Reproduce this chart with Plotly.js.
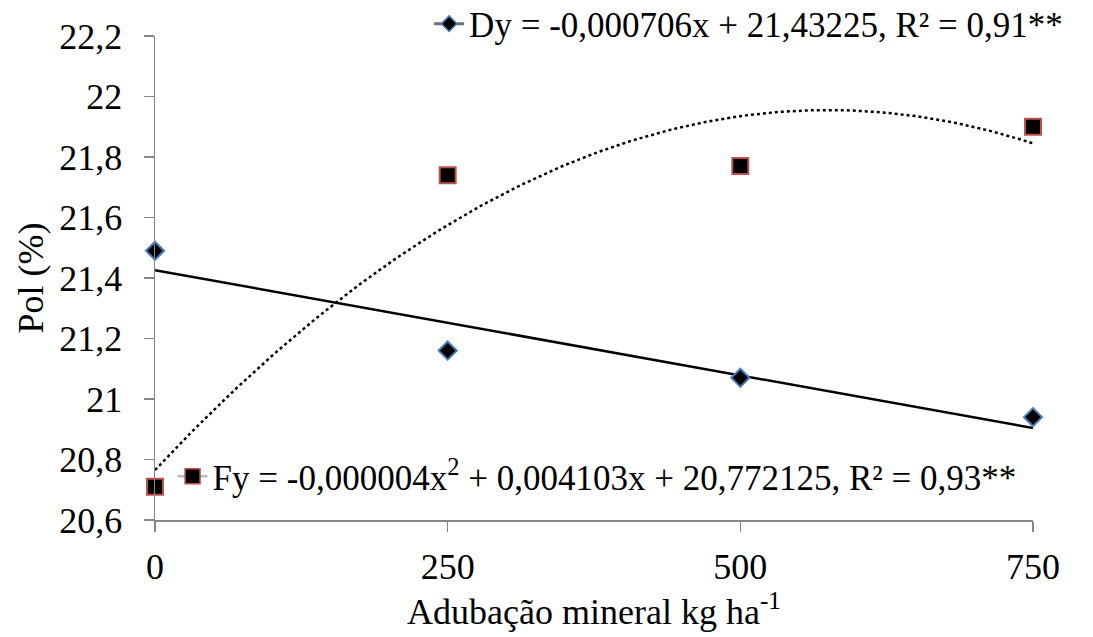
<!DOCTYPE html>
<html>
<head>
<meta charset="utf-8">
<script src="https://cdn.plot.ly/plotly-3.0.1.min.js"></script>
<style>html,body{margin:0;padding:0;background:#fff}#chart{width:1093px;height:637px}</style>
</head>
<body>
<div id="chart"></div>
<script>
const doses = [0, 250, 500, 750];
const polD = [21.49, 21.16, 21.07, 20.94];
const polF = [20.71, 21.74, 21.77, 21.90];
const xTickVals = [0, 250, 500, 750];
const yTickVals = [20.6, 20.8, 21, 21.2, 21.4, 21.6, 21.8, 22, 22.2];
const labelD = 'Dy = -0,000706x + 21,43225, R² = 0,91**';
const labelF = 'Fy = -0,000004x<sup>2</sup> + 0,004103x + 20,772125, R² = 0,93**';

// least-squares polynomial fit (trendlines, as the spreadsheet draws them)
function polyfit(xs, ys, deg) {
  const n = deg + 1;
  const A = Array.from({length: n}, () => new Array(n + 1).fill(0));
  for (let i = 0; i < xs.length; i++) {
    for (let r = 0; r < n; r++) {
      for (let c = 0; c < n; c++) A[r][c] += Math.pow(xs[i], r + c);
      A[r][n] += ys[i] * Math.pow(xs[i], r);
    }
  }
  for (let p = 0; p < n; p++) {
    let m = p;
    for (let r = p + 1; r < n; r++) if (Math.abs(A[r][p]) > Math.abs(A[m][p])) m = r;
    [A[p], A[m]] = [A[m], A[p]];
    for (let r = 0; r < n; r++) {
      if (r === p) continue;
      const f = A[r][p] / A[p][p];
      for (let c = p; c <= n; c++) A[r][c] -= f * A[p][c];
    }
  }
  return A.map((row, i) => row[n] / row[i]);
}
function evalPoly(co, x) { return co.reduce((s, c, i) => s + c * Math.pow(x, i), 0); }

const coD = polyfit(doses, polD, 1);
const coF = polyfit(doses, polF, 2);
const xs = [];
const xmin = Math.min(...doses), xmax = Math.max(...doses);
for (let i = 0; i <= 150; i++) xs.push(xmin + (xmax - xmin) * i / 150);

const FAM = 'Liberation Serif';
function f(size) { return {family: FAM, size: size, color: '#000'}; }
const diamond = {symbol: 'diamond', size: 14, color: '#000', line: {color: '#4a7ebb', width: 2}};
const square = {symbol: 'square', size: 16, color: '#000', line: {color: '#c0504d', width: 2}};

const traces = [
  {x: xs, y: xs.map(x => evalPoly(coD, x)), mode: 'lines', line: {color: '#000', width: 2.5}, showlegend: false, hoverinfo: 'skip'},
  {x: xs, y: xs.map(x => evalPoly(coF, x)), mode: 'lines', line: {color: '#000', width: 2.5, dash: 'dot'}, showlegend: false, hoverinfo: 'skip'},
  {x: doses, y: polD, mode: 'markers', marker: diamond, showlegend: false, cliponaxis: false},
  {x: doses, y: polF, mode: 'markers', marker: square, showlegend: false, cliponaxis: false},
  {x: [null], y: [null], mode: 'lines+markers', name: labelD, marker: {symbol: 'diamond', size: 12, color: '#000', line: {color: '#4a7ebb', width: 1.5}}, line: {color: '#707070', width: 3}, legend: 'legend'},
  {x: [null], y: [null], mode: 'lines+markers', name: labelF, marker: {symbol: 'square', size: 15, color: '#000', line: {color: '#c0504d', width: 1.5}}, line: {color: '#bcbcbc', width: 2.5}, legend: 'legend2'}
];

const layout = {
  width: 1093, height: 637,
  margin: {l: 155, r: 60, t: 36, b: 117, autoexpand: false},
  paper_bgcolor: '#fff', plot_bgcolor: '#fff',
  separators: ', ',
  font: f(36),
  showlegend: true,
  xaxis: {
    range: [0, 750], tickvals: xTickVals, ticks: 'outside', ticklen: 10, tickcolor: '#868686', tickwidth: 1.5,
    showline: true, linecolor: '#868686', linewidth: 1.5, showgrid: false, zeroline: false,
    tickfont: f(36), ticklabelstandoff: 4,
    title: {text: 'Adubação mineral kg ha<sup>-1</sup>', font: f(36), standoff: 12}
  },
  yaxis: {
    range: [20.6, 22.2], tickvals: yTickVals, ticks: 'outside', ticklen: 10, tickcolor: '#868686', tickwidth: 1.5,
    showline: true, linecolor: '#868686', linewidth: 1.5, showgrid: false, zeroline: false,
    tickfont: f(36), ticklabelstandoff: 14,
    title: {text: 'Pol (%)', font: f(36), standoff: 4}
  },
  legend: {x: 1.04, xanchor: 'right', y: 1.025, yanchor: 'middle', bgcolor: 'rgba(0,0,0,0)', font: f(35), itemwidth: 30},
  legend2: {x: 0.02, xanchor: 'left', y: 0.09, yanchor: 'middle', bgcolor: 'rgba(0,0,0,0)', font: f(35), itemwidth: 30}
};

Plotly.newPlot('chart', traces, layout, {displayModeBar: false, staticPlot: true});
</script>
</body>
</html>
